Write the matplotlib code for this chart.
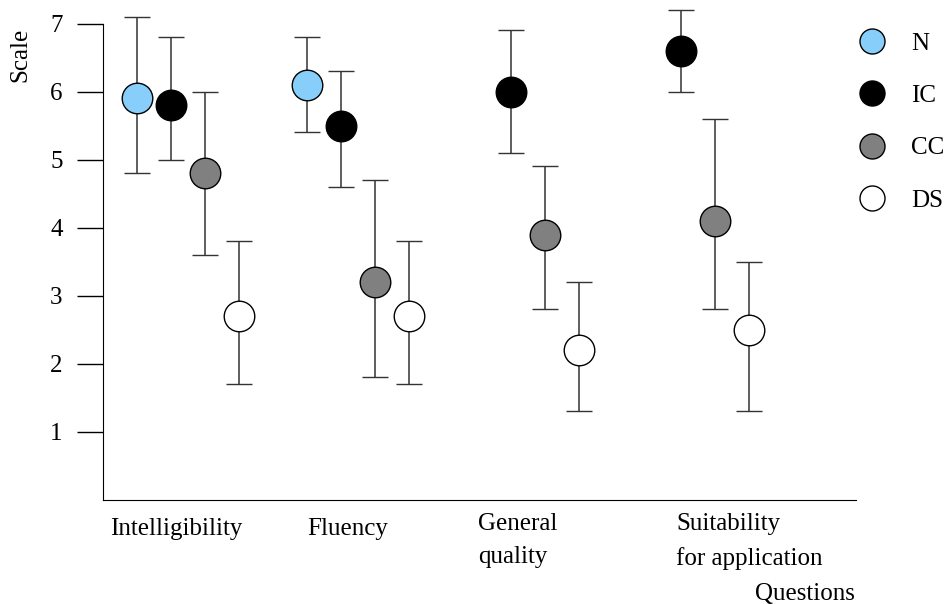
import numpy as np
import matplotlib
matplotlib.use('Agg')
import matplotlib.pyplot as plt
from matplotlib.lines import Line2D

plt.rcParams['font.family'] = ['Liberation Serif', 'DejaVu Serif']

questions = ['Intelligibility', 'Fluency', 'General\nquality', 'Suitability\nfor application']
series = ['N', 'IC', 'CC', 'DS']
colors = ['#87cefa', '#000000', '#808080', '#ffffff']

# mean, upper and lower end of each error bar, one row per question
means = {
    'N':  [5.9, 6.1, np.nan, np.nan],
    'IC': [5.8, 5.5, 6.0, 6.6],
    'CC': [4.8, 3.2, 3.9, 4.1],
    'DS': [2.7, 2.7, 2.2, 2.5],
}
upper = {
    'N':  [7.1, 6.8, np.nan, np.nan],
    'IC': [6.8, 6.3, 6.9, 7.2],
    'CC': [6.0, 4.7, 4.9, 5.6],
    'DS': [3.8, 3.8, 3.2, 3.5],
}
lower = {
    'N':  [4.8, 5.4, np.nan, np.nan],
    'IC': [5.0, 4.6, 5.1, 6.0],
    'CC': [3.6, 1.8, 2.8, 2.8],
    'DS': [1.7, 1.7, 1.3, 1.3],
}

fig = plt.figure(figsize=(9.51, 6.04), dpi=100)
ax = fig.add_axes([103 / 951, 104.1 / 604, 753 / 951, 499.9 / 604])

group = np.arange(len(questions)) * 5
for j, s in enumerate(series):
    m = np.array(means[s])
    err = [m - np.array(lower[s]), np.array(upper[s]) - m]
    ax.errorbar(group + j, m, yerr=err, fmt='o', ms=22, mfc=colors[j],
                mec='black', mew=1.0, ecolor='#333333', elinewidth=1.1,
                capsize=9.7, capthick=1.1)

ax.set_xlim(-1.01, 21.14)
ax.set_ylim(0, 7.346)
ax.set_yticks(range(1, 8))
ax.set_xticks([])
ax.tick_params(axis='y', direction='out', length=19, width=1, pad=10, labelsize=18)
ax.spines['top'].set_visible(False)
ax.spines['right'].set_visible(False)
ax.spines['left'].set_bounds(0, 7)

label_x = [110, 307, 478, 676]
label_top = [518, 518, 513, 513]
for q, x, y in zip(questions, label_x, label_top):
    fig.text(x / 951, 1 - y / 604, q, ha='left', va='top', fontsize=18,
             linespacing=1.65)

fig.text(20 / 951, 1 - 55 / 604, 'Scale', rotation=90, ha='center', va='center', fontsize=18)
fig.text(855 / 951, 1 - 594 / 604, 'Questions', ha='right', va='center', fontsize=18)

handles = [Line2D([], [], ls='none', marker='o', ms=18, mfc=c, mec='black', mew=1.0)
           for c in colors]
fig.legend(handles, series, loc='upper left', bbox_to_anchor=(859 / 951, 1 - 32 / 604),
           frameon=False, fontsize=18, handlelength=1.0, handletextpad=1.1,
           labelspacing=1.2, borderpad=0, borderaxespad=0)

fig.savefig('out.png', dpi=100)
